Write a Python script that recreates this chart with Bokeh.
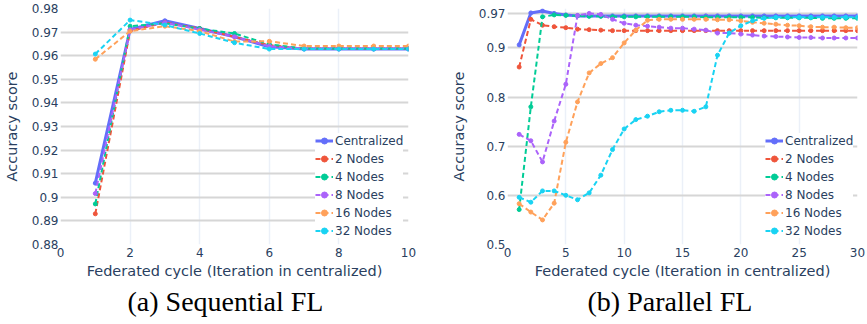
from bokeh.plotting import figure
from bokeh.layouts import row
from bokeh.models import Legend, LegendItem, Title, Range1d, FixedTicker
from bokeh.embed import file_html
from bokeh.resources import INLINE

series_names = ["Centralized", "2 Nodes", "4 Nodes", "8 Nodes", "16 Nodes", "32 Nodes"]
colors = ["#636efa", "#ef553b", "#00cc96", "#ab63fa", "#ffa15a", "#19d3f3"]

# (a) Sequential FL
seq_x = [1, 2, 3, 4, 5, 6, 7, 8, 9, 10]
seq_central = [0.906, 0.9711, 0.9748, 0.9715, 0.968, 0.9638, 0.9628, 0.9628, 0.9628, 0.9628]
seq_2 = [0.893, 0.9705, 0.974, 0.9715, 0.968, 0.9645, 0.963, 0.963, 0.963, 0.963]
seq_4 = [0.8972, 0.9725, 0.9737, 0.9715, 0.9694, 0.9648, 0.963, 0.963, 0.963, 0.963]
seq_8 = [0.9016, 0.971, 0.974, 0.971, 0.968, 0.964, 0.963, 0.963, 0.963, 0.963]
seq_16 = [0.9585, 0.9704, 0.9725, 0.9704, 0.966, 0.9661, 0.9641, 0.9641, 0.9641, 0.9641]
seq_32 = [0.9607, 0.9751, 0.973, 0.9694, 0.9655, 0.9628, 0.9628, 0.9628, 0.9628, 0.9628]
seq_xticks = [0, 2, 4, 6, 8, 10]
seq_yticks = [0.88, 0.89, 0.9, 0.91, 0.92, 0.93, 0.94, 0.95, 0.96, 0.97, 0.98]
seq_ylabels = ["0.88", "0.89", "0.9", "0.91", "0.92", "0.93", "0.94", "0.95", "0.96", "0.97", "0.98"]

# (b) Parallel FL
par_x = [1, 2, 3, 4, 5, 6, 7, 8, 9, 10, 11, 12, 13, 14, 15,
         16, 17, 18, 19, 20, 21, 22, 23, 24, 25, 26, 27, 28, 29, 30]
par_central = [0.906, 0.971, 0.975, 0.970, 0.967, 0.965, 0.965, 0.965, 0.965, 0.965,
               0.965, 0.965, 0.965, 0.965, 0.965, 0.965, 0.965, 0.965, 0.965, 0.965,
               0.965, 0.965, 0.965, 0.965, 0.965, 0.965, 0.965, 0.965, 0.965, 0.965]
par_2 = [0.861, 0.958, 0.946, 0.943, 0.941, 0.938, 0.937, 0.936, 0.935, 0.935,
         0.935, 0.935, 0.935, 0.935, 0.935, 0.935, 0.935, 0.935, 0.935, 0.935,
         0.935, 0.935, 0.935, 0.935, 0.935, 0.935, 0.935, 0.935, 0.935, 0.935]
par_4 = [0.571, 0.780, 0.963, 0.967, 0.966, 0.965, 0.964, 0.964, 0.963, 0.963,
         0.963, 0.963, 0.963, 0.963, 0.963, 0.963, 0.962, 0.962, 0.962, 0.962,
         0.962, 0.961, 0.961, 0.961, 0.961, 0.961, 0.960, 0.960, 0.960, 0.960]
par_8 = [0.724, 0.711, 0.668, 0.751, 0.826, 0.966, 0.970, 0.968, 0.958, 0.950,
         0.946, 0.944, 0.942, 0.940, 0.940, 0.938, 0.936, 0.930, 0.930, 0.928,
         0.926, 0.924, 0.923, 0.922, 0.921, 0.921, 0.920, 0.920, 0.920, 0.920]
par_16 = [0.583, 0.566, 0.550, 0.584, 0.708, 0.790, 0.849, 0.868, 0.880, 0.910,
          0.936, 0.956, 0.958, 0.958, 0.958, 0.958, 0.958, 0.957, 0.957, 0.955,
          0.952, 0.950, 0.948, 0.946, 0.945, 0.943, 0.942, 0.942, 0.941, 0.941]
par_32 = [0.596, 0.586, 0.609, 0.609, 0.600, 0.591, 0.605, 0.641, 0.693, 0.735,
          0.754, 0.761, 0.770, 0.773, 0.773, 0.771, 0.780, 0.885, 0.930, 0.945,
          0.955, 0.960, 0.962, 0.962, 0.962, 0.962, 0.962, 0.962, 0.962, 0.962]
par_xticks = [0, 5, 10, 15, 20, 25, 30]
par_yticks = [0.5, 0.6, 0.7, 0.8, 0.9, 0.97]
par_ylabels = ["0.5", "0.6", "0.7", "0.8", "0.9", "0.97"]

TXT = "#2a3f5f"


def make(xs, ys_list, xr, yr, xticks, yticks, ylabels, caption, width,
         min_left, min_right, cap_offset, leg_x):
    p = figure(width=width, height=319, output_backend="svg", toolbar_location=None,
               x_range=Range1d(*xr), y_range=Range1d(*yr),
               min_border_left=min_left, min_border_right=min_right,
               min_border_top=8, min_border_bottom=0)
    p.outline_line_color = None
    p.xaxis.ticker = FixedTicker(ticks=xticks)
    p.yaxis.ticker = FixedTicker(ticks=yticks)
    p.yaxis.major_label_overrides = {t: l for t, l in zip(yticks, ylabels)}
    for ax in (p.xaxis[0], p.yaxis[0]):
        ax.axis_line_color = None
        ax.major_tick_line_color = None
        ax.minor_tick_line_color = None
        ax.major_tick_out = 0
        ax.major_tick_in = 0
        ax.minor_tick_out = 0
        ax.minor_tick_in = 0
        ax.major_label_text_font = "DejaVu Sans"
        ax.major_label_text_font_size = "12px"
        ax.major_label_text_color = TXT
        ax.axis_label_text_font = "DejaVu Sans"
        ax.axis_label_text_font_size = "14.5px"
        ax.axis_label_text_font_style = "normal"
        ax.axis_label_text_color = TXT
    p.xaxis.major_label_standoff = 3
    p.yaxis.major_label_standoff = 2
    p.xaxis.axis_label = "Federated cycle (Iteration in centralized)"
    p.yaxis.axis_label = "Accuracy score"
    p.xaxis.axis_label_standoff = 3
    p.yaxis.axis_label_standoff = 9
    p.xgrid.grid_line_color = "#ebf0f8"
    p.xgrid.grid_line_width = 1.5
    p.ygrid.grid_line_color = "#d6d6d6"
    p.ygrid.grid_line_width = 2

    items = []
    for i, (name, ys, c) in enumerate(zip(series_names, ys_list, colors)):
        if i == 0:
            r1 = p.line(xs, ys, line_color=c, line_width=3)
        else:
            r1 = p.line(xs, ys, line_color=c, line_width=2, line_dash="5 3")
        r2 = p.scatter(xs, ys, size=4, fill_color=c, line_color=c)
        items.append(LegendItem(label=name, renderers=[r1, r2]))
    leg = Legend(items=items, location=(leg_x, 6), padding=3, margin=0, spacing=3,
                 glyph_width=18, glyph_height=15, label_height=15, label_standoff=2,
                 label_text_font="DejaVu Sans", label_text_font_size="12px",
                 label_text_color=TXT, background_fill_color="white",
                 background_fill_alpha=1, border_line_color=None)
    p.add_layout(leg)
    t = Title(text=caption, align="left", offset=cap_offset, standoff=5,
              text_font="Liberation Serif", text_font_size="28px",
              text_font_style="normal", text_color="black")
    p.add_layout(t, "below")
    return p


p1 = make(seq_x, [seq_central, seq_2, seq_4, seq_8, seq_16, seq_32], (0, 10), (0.88, 0.98),
          seq_xticks, seq_yticks, seq_ylabels, "(a) Sequential FL", 430, 60, 22, 67, 255)
p2 = make(par_x, [par_central, par_2, par_4, par_8, par_16, par_32], (0, 30), (0.5, 0.98),
          par_xticks, par_yticks, par_ylabels, "(b) Parallel FL", 437, 77, 10, 80, 258)

layout = row(p1, p2, spacing=0)
open("out.html", "w").write(file_html(layout, INLINE))
